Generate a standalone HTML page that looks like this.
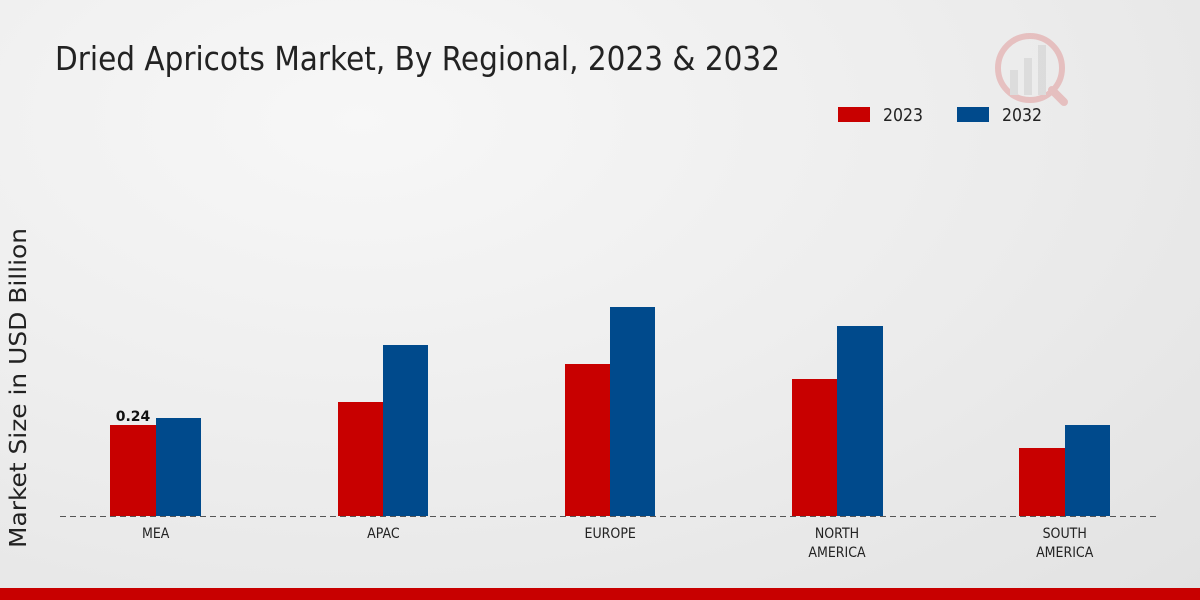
<!DOCTYPE html>
<html><head><meta charset="utf-8"><style>
html,body{margin:0;padding:0;width:1200px;height:600px;overflow:hidden}
body{background:radial-gradient(ellipse at 30% 20%,#f7f7f7 0%,#ececec 55%,#e2e2e2 100%);font-family:"DejaVu Sans",sans-serif}
</style></head><body>
<svg width="1200" height="600" xmlns="http://www.w3.org/2000/svg" style="position:absolute;left:0;top:0" font-family="DejaVu Sans, sans-serif">
<text x="55" y="70" font-size="33" fill="#222" textLength="725" lengthAdjust="spacingAndGlyphs">Dried Apricots Market, By Regional, 2023 &amp; 2032</text>
<g opacity="0.18">
<circle cx="1030" cy="68" r="32" fill="none" stroke="#c00" stroke-width="6"/>
<rect x="1010" y="70" width="8" height="25" fill="#999"/><rect x="1024" y="58" width="8" height="37" fill="#999"/><rect x="1038" y="45" width="8" height="50" fill="#999"/>
<line x1="1052" y1="90" x2="1064" y2="102" stroke="#c00" stroke-width="8" stroke-linecap="round"/>
</g>
<rect x="838" y="107" width="32" height="15" fill="#c80000"/>
<text x="883" y="121" font-size="18" fill="#222" textLength="40" lengthAdjust="spacingAndGlyphs">2023</text>
<rect x="957" y="107" width="32" height="15" fill="#004a8c"/>
<text x="1002" y="121" font-size="18" fill="#222" textLength="40" lengthAdjust="spacingAndGlyphs">2032</text>
<text transform="translate(26,388) rotate(-90)" font-size="23" fill="#222" text-anchor="middle" textLength="320" lengthAdjust="spacingAndGlyphs">Market Size in USD Billion</text>
<g fill="#c80000">
<rect x="110" y="425" width="46" height="91"/><rect x="338" y="402" width="45" height="114"/><rect x="565" y="364" width="45" height="152"/><rect x="792" y="379" width="45" height="137"/><rect x="1019" y="448" width="46" height="68"/>
</g>
<g fill="#004a8c">
<rect x="156" y="418" width="45" height="98"/><rect x="383" y="345" width="45" height="171"/><rect x="610" y="307" width="45" height="209"/><rect x="837" y="326" width="46" height="190"/><rect x="1065" y="425" width="45" height="91"/>
</g>
<line x1="60" y1="516.5" x2="1160" y2="516.5" stroke="#555" stroke-width="1" stroke-dasharray="6,4"/>
<text x="133" y="421" font-size="14" font-weight="bold" fill="#111" text-anchor="middle">0.24</text>
<g font-size="14" fill="#222" text-anchor="middle" transform="scale(0.9,1)">
<text x="173" y="538">MEA</text><text x="426" y="538">APAC</text><text x="678" y="538">EUROPE</text>
<text x="930" y="538">NORTH</text><text x="930" y="557">AMERICA</text>
<text x="1183" y="538">SOUTH</text><text x="1183" y="557">AMERICA</text>
</g>
<rect x="0" y="588" width="1200" height="12" fill="#c80000"/>
</svg>
</body></html>
